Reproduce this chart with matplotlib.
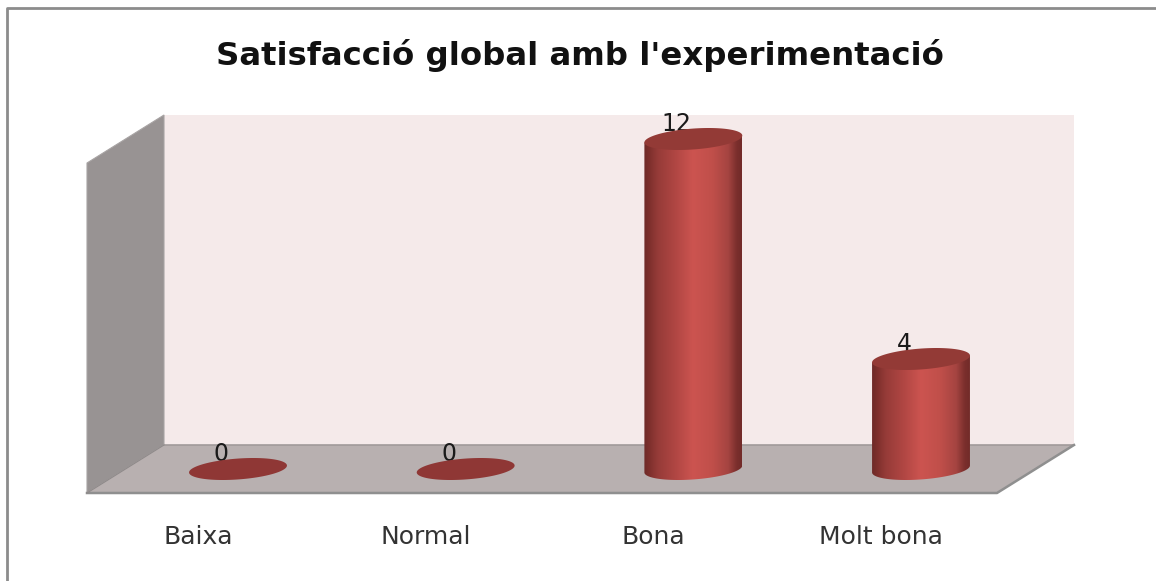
import numpy as np
import matplotlib.pyplot as plt
from matplotlib.colors import LinearSegmentedColormap
from matplotlib.patches import Polygon

# Dades
categories = ['Baixa', 'Normal', 'Bona', 'Molt bona']
valors = [0, 0, 12, 4]
titol = "Satisfacció global amb l'experimentació"

W, H = 1156, 581

# Escales: categoria -> pixel i valor -> pixel
X0, PX_CAT = 238, 227.67
Y0, PX_VAL = 469, 27.5
AMPLE = 0.43    # amplada del cilindre en categories
B_EL = 0.38     # semieix vertical de l'el·lipse, en valors
SHEAR = 0.125   # inclinació de l'el·lipse, en valors

fig = plt.figure(figsize=(W / 100, H / 100), dpi=100, facecolor='white')

# Fons en pixels: marc i parets
bg = fig.add_axes([0, 0, 1, 1])
bg.set_xlim(0, W)
bg.set_ylim(H, 0)
bg.axis('off')
bg.plot([7, 7, W], [H, 8, 8], color='#8c8c8c', lw=2)
bg.add_patch(Polygon([(164, 115), (1074, 115), (1074, 445), (164, 445)], fc='#f5eaea', ec='none'))
bg.add_patch(Polygon([(87, 163), (164, 115), (164, 445), (87, 493)], fc='#989393', ec='#a8a4a4', lw=0.8))
bg.add_patch(Polygon([(164, 445), (1074, 445), (997, 493), (87, 493)], fc='#b8b0b0', ec='none'))
bg.plot([164, 1074], [445, 445], color='#a09a9a', lw=1.2)
bg.plot([87, 997, 1074], [493, 493, 445], color='#8f8f8f', lw=1.8)
bg.plot([87, 164], [493, 445], color='#8f8a8a', lw=0.8)

# Eixos de dades, alineats amb el fons
ax = fig.add_axes([0, 0, 1, 1])
ax.patch.set_alpha(0)
ax.axis('off')

cmap = LinearSegmentedColormap.from_list('cilindre', [
    (0.0, '#6e2a28'), (0.05, '#7c2f2c'), (0.14, '#963b38'), (0.32, '#b04643'), (0.5, '#cc5450'),
    (0.7, '#c04f4a'), (0.86, '#a54441'), (0.95, '#7a2e2c'), (1.0, '#722b29')])
grad = np.linspace(0, 1, 256).reshape(1, -1)


def el_lipse(cx, v):
    t = np.linspace(0, 2 * np.pi, 200)
    return np.column_stack([cx + AMPLE / 2 * np.cos(t),
                            v + B_EL * np.sin(t) + SHEAR * np.cos(t)])


for i, (cat, v) in enumerate(zip(categories, valors)):
    if v > 0:
        t = np.linspace(np.pi, 2 * np.pi, 100)
        baix = np.column_stack([i + AMPLE / 2 * np.cos(t),
                                B_EL * np.sin(t) + SHEAR * np.cos(t)])
        cos = np.vstack([[[i - AMPLE / 2, v - SHEAR]], baix, [[i + AMPLE / 2, v + SHEAR]]])
        body = Polygon(cos, fc='none', ec='none', transform=ax.transData)
        ax.add_patch(body)
        im = ax.imshow(grad, cmap=cmap, aspect='auto', interpolation='bilinear',
                       extent=[i - AMPLE / 2, i + AMPLE / 2, -1, v + 1], zorder=2)
        im.set_clip_path(body)
    color = '#933a36' if v > 0 else '#8f3735'
    ax.add_patch(Polygon(el_lipse(i, v), fc=color, ec='none', zorder=3))

    # Etiqueta de valor
    ax.text(i - 0.075, v + 0.55, str(v), ha='center', va='center', fontsize=17,
            color='#1a1a1a', zorder=2.5)
    # Categoria
    ax.text(i - 0.175, -2.47, cat, ha='center', va='center', fontsize=18,
            color='#333333', zorder=4)

ax.set_xlim((0 - X0) / PX_CAT, (W - X0) / PX_CAT)
ax.set_ylim((Y0 - H) / PX_VAL, Y0 / PX_VAL)

fig.text(580 / W, 1 - 55 / H, titol, ha='center', va='center', fontsize=23.3,
         fontweight='bold', color='#111111')

plt.savefig('out.png', dpi=100)
